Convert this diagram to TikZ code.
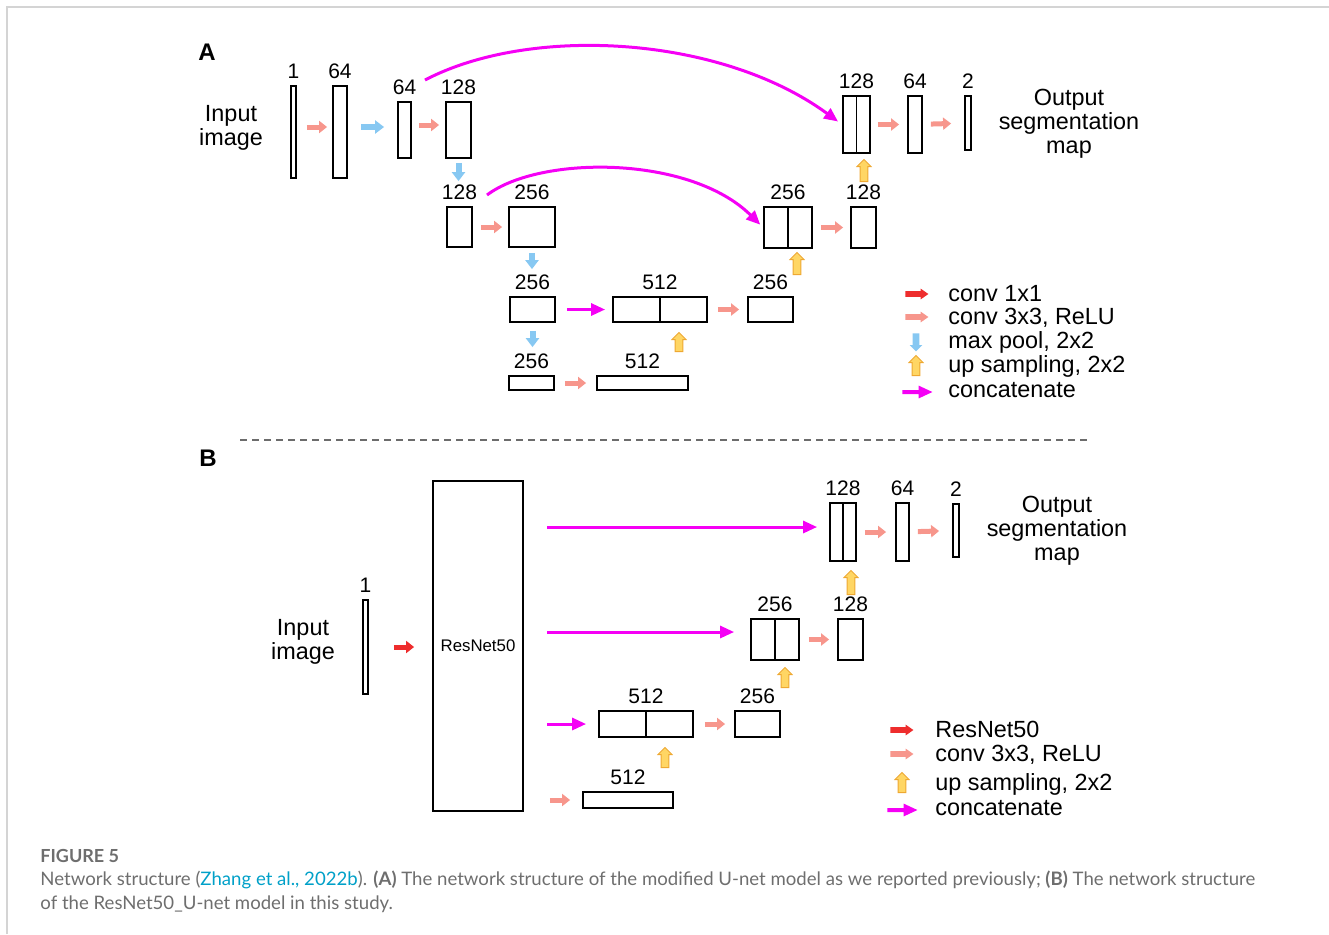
\documentclass[tikz,border=0pt]{standalone}
\usepackage{fontspec}
\setmainfont{Liberation Sans}
\newfontfamily\capfont{Lato}
\usetikzlibrary{arrows.meta,shapes.arrows,positioning,fit}

\definecolor{convpink}{RGB}{247,150,140}
\definecolor{onered}{RGB}{238,45,45}
\definecolor{poolblue}{RGB}{135,200,242}
\definecolor{upfill}{RGB}{255,214,100}
\definecolor{updraw}{RGB}{238,168,50}
\definecolor{catmag}{RGB}{245,0,245}
\definecolor{citecol}{RGB}{0,160,200}
\definecolor{capgrey}{RGB}{110,110,110}
\definecolor{framegrey}{RGB}{212,212,212}

\begin{document}
\begin{tikzpicture}[x=0.5pt,y=-0.5pt]
    \tikzstyle{blk} = [draw, line width=0.9pt, inner sep=0pt]
    \tikzstyle{num} = [inner sep=0pt, font=\fontsize{10.5}{12}\selectfont]
    \tikzstyle{txt} = [inner sep=0pt, align=center, font=\fontsize{11.7}{12}\selectfont]
    \tikzstyle{panel} = [inner sep=0pt, font=\fontsize{12}{14}\selectfont\bfseries]
    \tikzstyle{conv} = [convpink, line width=2.5pt, -{Triangle[length=4pt,width=6pt]}]
    \tikzstyle{onexone} = [onered, line width=2.5pt, -{Triangle[length=4pt,width=6pt]}]
    \tikzstyle{pool} = [poolblue, line width=3pt, -{Triangle[length=4.5pt,width=6.5pt]}]
    \tikzstyle{cat} = [catmag, line width=1.5pt, -{Triangle[length=7pt,width=6pt]}]
    \tikzstyle{upsamp} = [single arrow, draw=updraw, fill=upfill, line width=0.5pt, rotate=90, anchor=tail,
        inner xsep=0pt, inner ysep=1.65pt, minimum height=10pt, minimum width=0pt, single arrow head extend=1.6pt]
    \tikzstyle{lgarr} = [single arrow, anchor=tail, inner xsep=0pt, inner ysep=1.2pt, minimum height=11.5pt,
        minimum width=0pt, single arrow head extend=1.3pt, single arrow tip angle=70]
    \tikzstyle{lgpool} = [single arrow, fill=poolblue, rotate=-90, anchor=tail, inner xsep=0pt, inner ysep=1.5pt,
        minimum height=9pt, minimum width=0pt, single arrow head extend=1.5pt]
    \tikzstyle{lgcat} = [single arrow, fill=catmag, anchor=tail, inner xsep=0pt, inner ysep=0.8pt, minimum height=15pt,
        minimum width=0pt, single arrow head extend=2.2pt, single arrow tip angle=50]
    \tikzstyle{lgtxt} = [inner sep=0pt, anchor=base west, font=\fontsize{11.7}{12}\selectfont]
    \tikzstyle{captxt} = [inner sep=0pt, capgrey, anchor=base west, font=\capfont\fontsize{9.3}{12}\selectfont]

    \useasboundingbox (0,0) rectangle (1329,934);
    \draw[framegrey, line width=0.8pt] (7,934) -- (7,7) -- (1329,7);

    \node[panel] (pa) at (207,52) {A};
    \node[txt] (ina) at (231,128) {Input\\image};
    \node[blk, fit={(291,86) (296,178)}] (a1) {};
    \node[num, above=3pt of a1] (la1) {1};
    \node[blk, fit={(333,86) (347,178)}] (a2) {};
    \node[num, above=3pt of a2] (la2) {64};
    \node[blk, fit={(398,102) (411,158)}] (a3) {};
    \node[num, above=3pt of a3] (la3) {64};
    \node[blk, fit={(446,102) (471,158)}] (a4) {};
    \node[num, above=3pt of a4] (la4) {128};
    \node[blk, fit={(447,207) (472,247)}] (a5) {};
    \node[num, above=3pt of a5] (la5) {128};
    \node[blk, fit={(509,207) (555,247)}] (a6) {};
    \node[num, above=3pt of a6] (la6) {256};
    \node[blk, fit={(510,297) (555,322)}] (a7) {};
    \node[num, above=3pt of a7] (la7) {256};
    \node[blk, fit={(613,297) (707,322)}] (a8) {};
    \node[num, above=3pt of a8] (la8) {512};
    \node[blk, fit={(748,297) (793,322)}] (a9) {};
    \node[num, above=3pt of a9] (la9) {256};
    \node[blk, fit={(509,376) (554,390)}] (a10) {};
    \node[num, above=3pt of a10] (la10) {256};
    \node[blk, fit={(597,376) (688,390)}] (a11) {};
    \node[num, above=3pt of a11] (la11) {512};
    \node[blk, fit={(764,207) (812,248)}] (a12) {};
    \node[num, above=3pt of a12] (la12) {256};
    \node[blk, fit={(851,207) (876,248)}] (a13) {};
    \node[num, above=3pt of a13] (la13) {128};
    \node[blk, fit={(843,96) (870,153)}] (a14) {};
    \node[num, above=3pt of a14] (la14) {128};
    \node[blk, fit={(908,96) (922,153)}] (a15) {};
    \node[num, above=3pt of a15] (la15) {64};
    \node[blk, fit={(965,96) (971,150)}] (a16) {};
    \node[num, above=3pt of a16] (la16) {2};
    \node[txt] (outa) at (1069,124) {Output\\segmentation\\map};
    \draw[line width=0.9pt] (a8.north) -- (a8.south);
    \draw[line width=0.9pt] (a12.north) -- (a12.south);
    \draw[line width=0.9pt] (a14.north) -- (a14.south);

    \draw[conv, shorten <=5pt, shorten >=2.5pt] ([yshift=2.5pt]a1.east) -- ([yshift=2.5pt]a2.west);
    \draw[pool, shorten <=6.5pt, shorten >=6.5pt] ([yshift=2.5pt]a2.east) -- ([yshift=1.5pt]a3.west);
    \draw[conv, shorten <=3.5pt, shorten >=3pt] ([yshift=2.5pt]a3.east) -- ([yshift=2.5pt]a4.west);
    \draw[pool, shorten <=2pt, shorten >=12.5pt] (a4.south) -- (a4.south |- a5.north);
    \draw[conv, shorten <=4pt, shorten >=3pt] (a5) -- (a6);
    \draw[pool, shorten <=2.5pt, shorten >=13.5pt] (a6.south) -- (a6.south |- a7.north);
    \draw[cat, shorten <=5.5pt, shorten >=3.5pt] (a7) -- (a8);
    \draw[conv, shorten <=5pt, shorten >=4pt] (a8) -- (a9);
    \draw[pool, shorten <=4pt, shorten >=14pt] (a7.south) -- (a7.south |- a10.north);
    \draw[conv, shorten <=5pt, shorten >=5pt] (a10) -- (a11);
    \draw[conv, shorten <=4pt, shorten >=3.5pt] (a12) -- (a13);
    \draw[conv, shorten <=3.5pt, shorten >=4pt] (a14) -- (a15);
    \draw[conv, shorten <=4pt, shorten >=6.5pt] (a15) -- (a16);
    \node[upsamp, minimum height=9.5pt] (ua1) at (679,352) {};
    \node[upsamp, minimum height=11pt] (ua2) at (797,275) {};
    \node[upsamp, minimum height=11pt] (ua3) at (864,182) {};
    \coordinate (s1) at (425,80);
    \coordinate (s2) at (487,195);
    \draw[cat, shorten >=2.5pt] (s1) .. controls (530,25) and (720,35) .. (a14.west);
    \draw[cat, shorten >=2pt] (s2) .. controls (540,155) and (690,155) .. (a12.west);

    \node[lgtxt] (ta1) at (948,301) {conv 1x1};
    \node[lgtxt] (ta2) at (948,324) {conv 3x3, ReLU};
    \node[lgtxt] (ta3) at (948,348) {max pool, 2x2};
    \node[lgtxt] (ta4) at (948,372) {up sampling, 2x2};
    \node[lgtxt] (ta5) at (948,397) {concatenate};
    \node[lgarr, fill=onered] (ka1) at (905,294) {};
    \node[lgarr, fill=convpink] (ka2) at (905,317) {};
    \node[lgpool] (ka3) at (916,333) {};
    \node[upsamp] (ka4) at (916,376) {};
    \node[lgcat] (ka5) at (902,392) {};

    \draw[gray!85!black, line width=0.6pt, dash pattern=on 3.5pt off 2.5pt] (240,440) -- (1090,440);

    \node[panel] (pb) at (208,458) {B};
    \node[txt] (inb) at (303,642) {Input\\image};
    \node[blk, fit={(363,600) (368,694)}] (b0) {};
    \node[num, above=3pt of b0] (lb0) {1};
    \node[blk, fit={(433,481) (523,811)}] (res) {};
    \node[inner sep=0pt, font=\fontsize{8.4}{10}\selectfont] (rn) at (res.center) {ResNet50};
    \node[blk, fit={(583,792) (673,808)}] (b1) {};
    \node[num, above=3pt of b1] (lb1) {512};
    \node[blk, fit={(599,711) (693,737)}] (b2) {};
    \node[num, above=3pt of b2] (lb2) {512};
    \node[blk, fit={(735,711) (780,737)}] (b3) {};
    \node[num, above=3pt of b3] (lb3) {256};
    \node[blk, fit={(751,619) (799,660)}] (b4) {};
    \node[num, above=3pt of b4] (lb4) {256};
    \node[blk, fit={(838,619) (863,660)}] (b5) {};
    \node[num, above=3pt of b5] (lb5) {128};
    \node[blk, fit={(830,503) (856,561)}] (b6) {};
    \node[num, above=3pt of b6] (lb6) {128};
    \node[blk, fit={(896,503) (909,561)}] (b7) {};
    \node[num, above=3pt of b7] (lb7) {64};
    \node[blk, fit={(953,504) (959,557)}] (b8) {};
    \node[num, above=3pt of b8] (lb8) {2};
    \node[txt] (outb) at (1057,531) {Output\\segmentation\\map};
    \draw[line width=0.9pt] (b2.north) -- (b2.south);
    \draw[line width=0.9pt] (b4.north) -- (b4.south);
    \draw[line width=0.9pt] (b6.north) -- (b6.south);

    \draw[onexone, shorten <=12.5pt, shorten >=9pt] (b0) -- (b0 -| res.west);
    \draw[conv, shorten <=13pt, shorten >=6pt] (res.east |- b1.west) -- (b1.west);
    \draw[conv, shorten <=5.5pt, shorten >=4.5pt] (b2) -- (b3);
    \draw[conv, shorten <=4.5pt, shorten >=4pt] (b4) -- (b5);
    \draw[conv, shorten <=4pt, shorten >=4.5pt] (b6) -- (b7);
    \draw[conv, shorten <=4pt, shorten >=6.5pt] (b7) -- (b8);
    \coordinate (r1) at (547,527);
    \coordinate (r2) at (547,632);
    \coordinate (r3) at (547,724);
    \draw[cat, shorten >=6pt] (r1) -- (r1 -| b6.west);
    \draw[cat, shorten >=8pt] (r2) -- (r2 -| b4.west);
    \draw[cat, shorten >=6pt] (r3) -- (r3 -| b2.west);
    \node[upsamp] (ub1) at (665,768) {};
    \node[upsamp] (ub2) at (785,688) {};
    \node[upsamp, minimum height=12pt] (ub3) at (851,595) {};

    \node[lgtxt] (tb1) at (935,737) {ResNet50};
    \node[lgtxt] (tb2) at (935,761) {conv 3x3, ReLU};
    \node[lgtxt] (tb3) at (935,790) {up sampling, 2x2};
    \node[lgtxt] (tb4) at (935,815) {concatenate};
    \node[lgarr, fill=onered] (kb1) at (890,730) {};
    \node[lgarr, fill=convpink] (kb2) at (890,754) {};
    \node[upsamp] (kb3) at (902,793) {};
    \node[lgcat] (kb4) at (887,810) {};

    \node[captxt, font=\capfont\fontsize{9}{12}\selectfont\bfseries] (fig) at (40,862) {FIGURE 5};
    \node[captxt] (cap1) at (40,885) {Network structure (\textcolor{citecol}{Zhang et al., 2022b}). \textbf{(A)} The network structure of the modified U-net model as we reported previously; \textbf{(B)} The network structure};
    \node[captxt] (cap2) at (40,909) {of the ResNet50\_U-net model in this study.};
\end{tikzpicture}
\end{document}
